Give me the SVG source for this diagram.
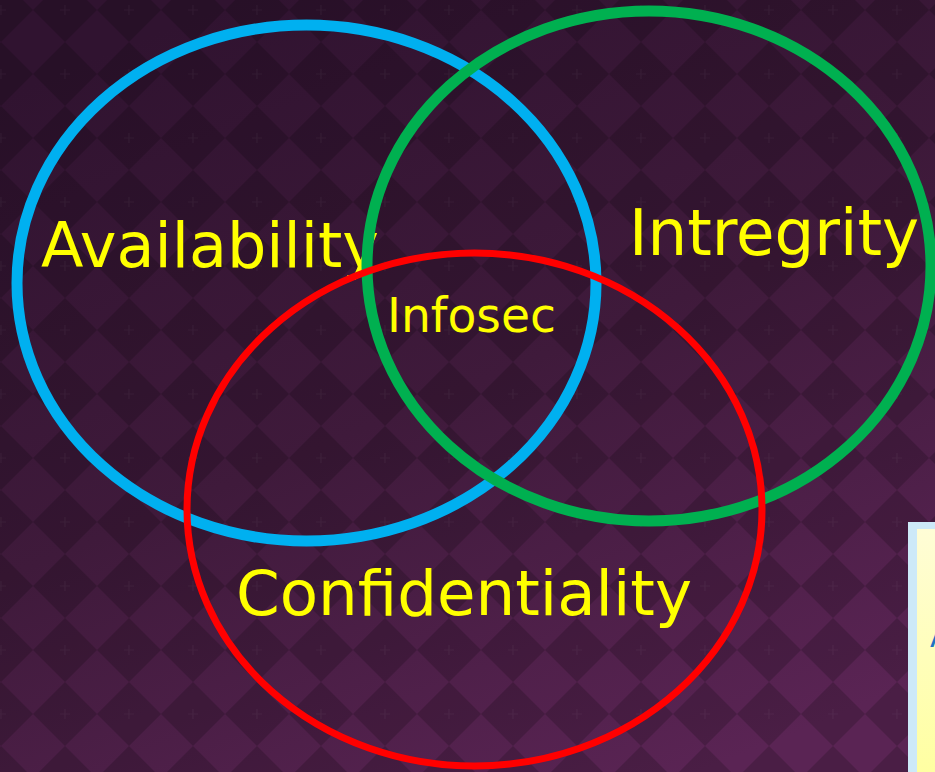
<svg xmlns="http://www.w3.org/2000/svg" width="935" height="772" viewBox="0 0 935 772">
  <defs>
    <linearGradient id="bgGrad" x1="0.25" y1="0" x2="0.75" y2="1">
      <stop offset="0" stop-color="#301330"/>
      <stop offset="0.5" stop-color="#3f1a3b"/>
      <stop offset="1" stop-color="#5a2454"/>
    </linearGradient>
    <linearGradient id="noteGrad" x1="0" y1="0" x2="0" y2="1">
      <stop offset="0" stop-color="#fffdd6"/>
      <stop offset="1" stop-color="#ffffa0"/>
    </linearGradient>
    <!-- harlequin tile: darker diamonds at the corners, small sparkle on each -->
    <pattern id="harlequin" patternUnits="userSpaceOnUse" x="1" y="10" width="64" height="64">
      <path d="M0 0H64V64H0Z M32 0L64 32L32 64L0 32Z" fill="#000" fill-opacity="0.18" fill-rule="evenodd"/>
      <g stroke="#ffffff" stroke-opacity="0.04" stroke-width="1.2">
        <path d="M-5 0H5M0 -5V5"/>
        <path d="M59 0H69M64 -5V5"/>
        <path d="M-5 64H5M0 59V69"/>
        <path d="M59 64H69M64 59V69"/>
      </g>
    </pattern>
    <style>
      .label { font-family: "DejaVu Sans", "Liberation Sans", sans-serif; fill: #ffff00; }
      .ring { fill: none; }
    </style>
  </defs>

  <!-- backdrop -->
  <rect width="935" height="772" fill="url(#bgGrad)"/>
  <rect width="935" height="772" fill="url(#harlequin)"/>

  <!-- note card running off the lower right edge -->
  <g id="note-card">
    <rect x="908" y="522" width="40" height="260" fill="#cde9f8"/>
    <rect x="917" y="529" width="30" height="250" fill="url(#noteGrad)"/>
    <text x="930" y="647" font-family="DejaVu Sans, sans-serif" font-size="30" fill="#1f72c4">A</text>
  </g>

  <g id="availability">
    <text class="label" x="41" y="267" font-size="62" textLength="338" lengthAdjust="spacingAndGlyphs">Availability</text>
    <ellipse class="ring" cx="306.5" cy="283" rx="289.5" ry="258" stroke="#00b0f0" stroke-width="11"/>
  </g>

  <g id="integrity">
    <text class="label" x="629" y="255" font-size="64" textLength="290" lengthAdjust="spacingAndGlyphs">Intregrity</text>
    <ellipse class="ring" cx="649" cy="266" rx="282" ry="255" stroke="#00b050" stroke-width="11"/>
  </g>

  <g id="confidentiality">
    <text class="label" x="236" y="615" font-size="62" textLength="456" lengthAdjust="spacingAndGlyphs">Confidentiality</text>
    <ellipse class="ring" cx="474.5" cy="509.5" rx="287.5" ry="256.5" stroke="#ff0000" stroke-width="7"/>
  </g>

  <g id="infosec">
    <text class="label" x="387" y="332" font-size="48" textLength="169" lengthAdjust="spacingAndGlyphs">Infosec</text>
  </g>
</svg>
